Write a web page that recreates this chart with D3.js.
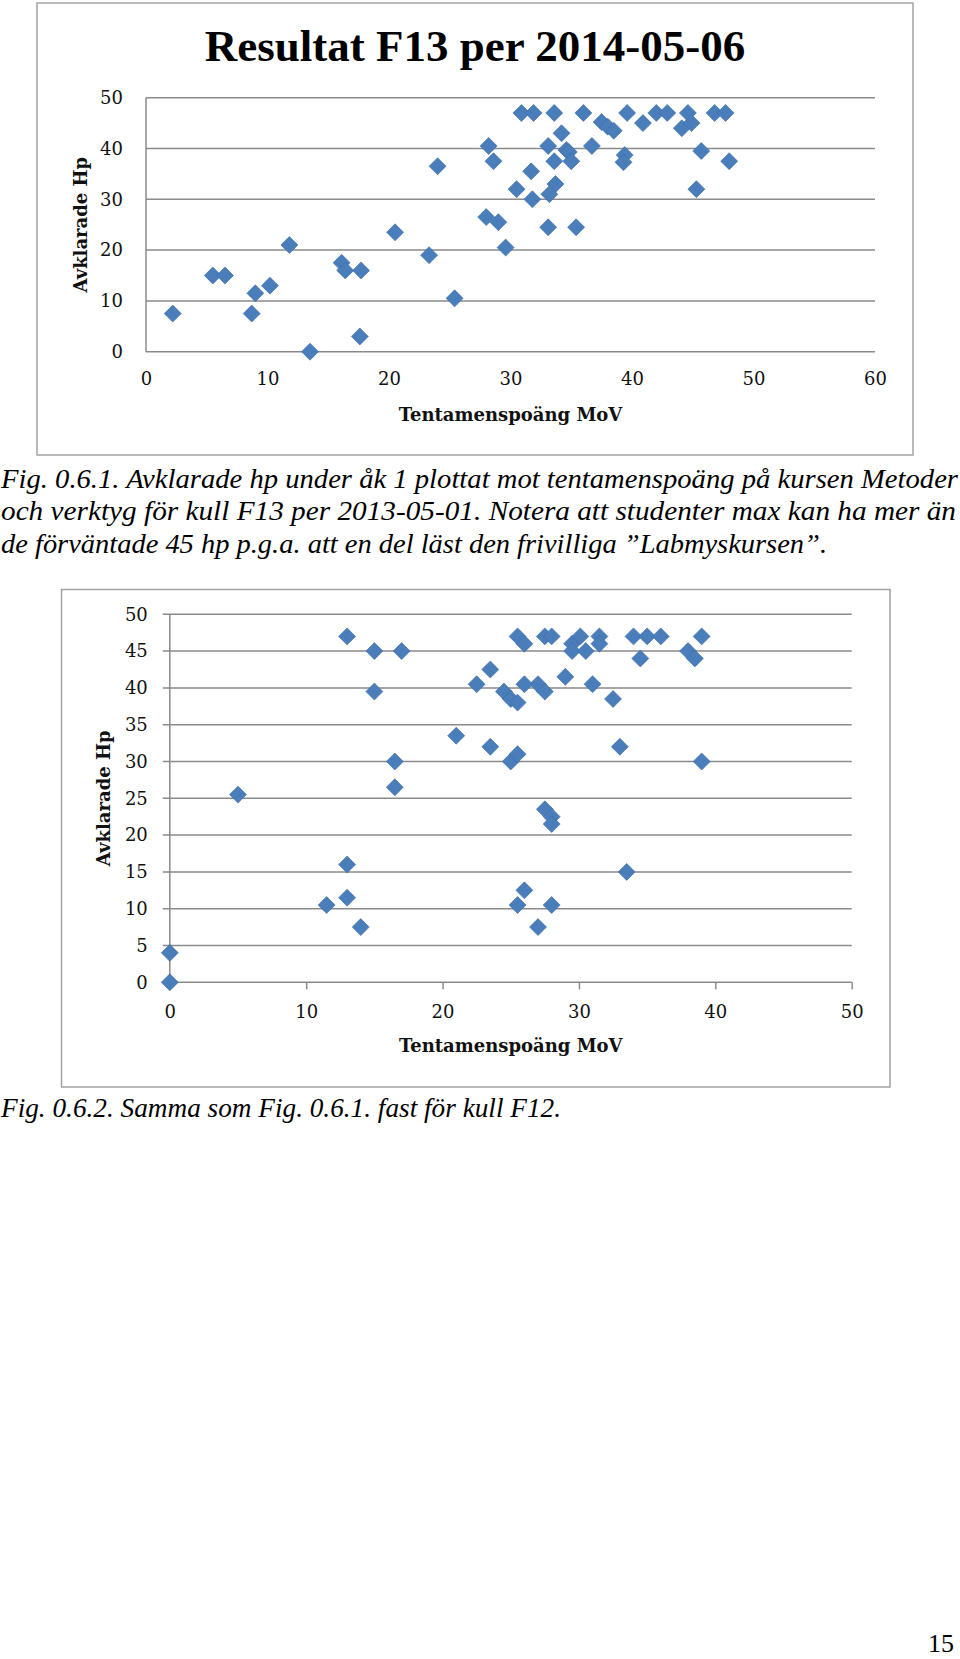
<!DOCTYPE html>
<html><head><meta charset="utf-8">
<script src="https://cdn.jsdelivr.net/npm/d3@7"></script>
<style>body{margin:0;background:#fff} svg{display:block}</style>
</head><body><svg id="c" width="960" height="1659"></svg>
<script>
// ---------- data ----------
const title1 = "Resultat F13 per 2014-05-06";
const xTitle = "Tentamenspoäng MoV";
const yTitle = "Avklarade Hp";

const x1Ticks = [0, 10, 20, 30, 40, 50, 60];
const y1Ticks = [0, 10, 20, 30, 40, 50];
const f13Score = [2.2, 5.5, 6.5, 8.7, 9.0, 10.2, 11.8, 13.5, 16.1, 16.4, 17.7, 17.6, 20.5, 23.3, 24.0, 25.4,
  28.0, 29.0, 29.6, 28.2, 28.6, 30.5, 30.9, 31.9, 33.6, 36.0, 39.6, 42.0, 42.9, 44.6, 46.8, 47.7,
  37.5, 38.0, 38.5, 40.9, 44.1, 44.9, 34.2, 33.1, 34.6, 34.8, 35.0, 33.6, 36.7, 39.4, 39.3, 45.7,
  48.0, 31.7, 31.8, 33.7, 33.2, 45.3, 33.1, 35.4];
const f13Hp = [7.5, 15, 15, 7.5, 11.5, 13, 21, 0, 17.5, 16, 16, 3, 23.5, 19, 36.5, 10.5,
  26.5, 25.5, 20.5, 40.5, 37.5, 32, 47, 47, 47, 47, 47, 47, 47, 47, 47, 47,
  45.2, 44.3, 43.5, 45, 44, 45, 43, 40.5, 39.7, 39.3, 37.5, 37.5, 40.5, 38.7, 37.3, 39.5,
  37.5, 35.5, 30, 33, 31, 32, 24.5, 24.5];

const x2Ticks = [0, 10, 20, 30, 40, 50];
const y2Ticks = [0, 5, 10, 15, 20, 25, 30, 35, 40, 45, 50];
const f12Score = [0, 0, 5, 11.5, 13, 13, 14, 13, 15, 17, 15, 16.5, 16.5, 21, 22.5, 23.5, 23.5, 24.5,
  25.5, 26, 27.5, 28, 29.5, 29.5, 30.1, 30.5, 31.5, 31.5, 34, 35, 36, 34.5, 38, 38.5, 39, 39,
  33, 32.5, 31, 29, 27, 27.5, 26, 25, 25.5, 25, 25.5, 27.5, 28, 28, 33.5, 26, 25.5, 28, 27];
const f12Hp = [0, 4, 25.5, 10.5, 11.5, 16, 7.5, 47, 45, 45, 39.5, 30, 26.5, 33.5, 40.5, 42.5, 32, 39.5,
  47, 46, 47, 47, 46, 45, 47, 45, 47, 46, 47, 47, 47, 44, 45, 44, 47, 30,
  32, 38.5, 40.5, 41.5, 40.5, 39.5, 40.5, 38.5, 38, 30, 31, 23.5, 22.5, 21.5, 15, 12.5, 10.5, 10.5, 7.5];

const caption1 = [
  "Fig. 0.6.1. Avklarade hp under åk 1 plottat mot tentamenspoäng på kursen Metoder",
  "och verktyg för kull F13 per 2013-05-01. Notera att studenter max kan ha mer än",
  "de förväntade 45 hp p.g.a. att en del läst den frivilliga ”Labmyskursen”."
];
const caption2 = "Fig. 0.6.2. Samma som Fig. 0.6.1. fast för kull F12.";
const pageNo = "15";

// ---------- drawing ----------
const svg = d3.select("#c");
svg.append("rect").attr("width", 960).attr("height", 1659).attr("fill", "#fff");

const GRID = "#8a8a8a", BOX = "#a3a3a3", MARK = "#4a7ebb", MARKS = "#3d6ca6";
const TICKFONT = "'DejaVu Serif', serif";

function chart(o) {
  const g = svg.append("g");
  g.append("rect").attr("x", o.box[0]).attr("y", o.box[1])
    .attr("width", o.box[2] - o.box[0]).attr("height", o.box[3] - o.box[1])
    .attr("fill", "#fff").attr("stroke", BOX).attr("stroke-width", 1.5);

  const x = d3.scaleLinear().domain([o.xTicks[0], o.xTicks[o.xTicks.length - 1]]).range([o.px0, o.px1]);
  const y = d3.scaleLinear().domain([o.yTicks[0], o.yTicks[o.yTicks.length - 1]]).range([o.py0, o.py1]);

  // gridlines
  g.append("g").selectAll("line").data(o.yTicks).join("line")
    .attr("x1", o.px0 - o.yTickLen).attr("x2", o.px1)
    .attr("y1", d => y(d)).attr("y2", d => y(d))
    .attr("stroke", GRID).attr("stroke-width", 1.5);
  // vertical axis line
  g.append("line").attr("x1", o.px0).attr("x2", o.px0).attr("y1", o.py0).attr("y2", o.py1)
    .attr("stroke", GRID).attr("stroke-width", 1.5);

  // y axis labels
  const ya = g.append("g").attr("transform", `translate(${o.px0},0)`)
    .call(d3.axisLeft(y).tickValues(o.yTicks).tickSize(0).tickPadding(o.yPad).tickFormat(d3.format("d")));
  ya.select(".domain").remove();
  ya.selectAll("text").attr("font-family", TICKFONT).attr("font-size", 18).attr("fill", "#111");

  // x axis labels (+ ticks)
  const xa = g.append("g").attr("transform", `translate(0,${o.py0})`)
    .call(d3.axisBottom(x).tickValues(o.xTicks).tickSizeInner(o.xTickLen).tickSizeOuter(0).tickPadding(o.xPad).tickFormat(d3.format("d")));
  xa.select(".domain").remove();
  xa.selectAll("line").attr("stroke", GRID).attr("stroke-width", 1.5);
  xa.selectAll("text").attr("font-family", TICKFONT).attr("font-size", 18).attr("fill", "#111");

  // axis titles
  g.append("text").attr("x", (o.px0 + o.px1) / 2).attr("y", o.xTitleY)
    .attr("text-anchor", "middle").attr("font-family", TICKFONT).attr("font-weight", "bold")
    .attr("font-size", 18).attr("fill", "#111").text(xTitle);
  g.append("text").attr("transform", `translate(${o.yTitleX},${(o.py0 + o.py1) / 2}) rotate(-90)`)
    .attr("text-anchor", "middle").attr("font-family", TICKFONT).attr("font-weight", "bold")
    .attr("font-size", 18).attr("fill", "#111").text(yTitle);

  // markers
  const sym = d3.symbol().type(d3.symbolSquare).size(144);
  g.append("g").selectAll("path").data(o.xs.map((v, i) => [v, o.ys[i]])).join("path")
    .attr("d", sym)
    .attr("transform", d => `translate(${x(d[0])},${y(d[1])}) rotate(45)`)
    .attr("fill", MARK).attr("stroke", MARKS).attr("stroke-width", 0.6);
  return g;
}

// Chart 1 (F13)
const c1 = chart({
  box: [37, 3, 913, 455],
  px0: 146, px1: 875, py0: 351.7, py1: 97.7,
  xTicks: x1Ticks, yTicks: y1Ticks, xs: f13Score, ys: f13Hp,
  yTickLen: 0, xTickLen: 0, yPad: 23, xPad: 21,
  xTitleY: 421, yTitleX: 87
});
c1.append("text").attr("x", 475).attr("y", 61).attr("text-anchor", "middle")
  .attr("font-family", "'Liberation Serif', 'Times New Roman', serif").attr("font-weight", "bold")
  .attr("font-size", 45).attr("fill", "#000").text(title1);

// Chart 2 (F12)
chart({
  box: [61.5, 589.5, 890, 1087],
  px0: 169.8, px1: 851.7, py0: 982.3, py1: 614.3,
  xTicks: x2Ticks, yTicks: y2Ticks, xs: f12Score, ys: f12Hp,
  yTickLen: 7, xTickLen: 7, yPad: 22, xPad: 16,
  xTitleY: 1052, yTitleX: 110
});

// captions
const capFont = "'Liberation Serif', 'Times New Roman', serif";
const capWidths = [957, 955, 826];
caption1.forEach((t, i) => {
  svg.append("text").attr("x", 1).attr("y", 488 + i * 32.3)
    .attr("font-family", capFont).attr("font-style", "italic").attr("font-size", 28)
    .attr("fill", "#000").attr("textLength", capWidths[i]).attr("lengthAdjust", "spacingAndGlyphs").text(t);
});
svg.append("text").attr("x", 1).attr("y", 1117)
  .attr("font-family", capFont).attr("font-style", "italic").attr("font-size", 28)
  .attr("fill", "#000").attr("textLength", 560).attr("lengthAdjust", "spacingAndGlyphs").text(caption2);

svg.append("text").attr("x", 954).attr("y", 1652).attr("text-anchor", "end")
  .attr("font-family", capFont).attr("font-size", 26).attr("fill", "#000").text(pageNo);
</script></body></html>
